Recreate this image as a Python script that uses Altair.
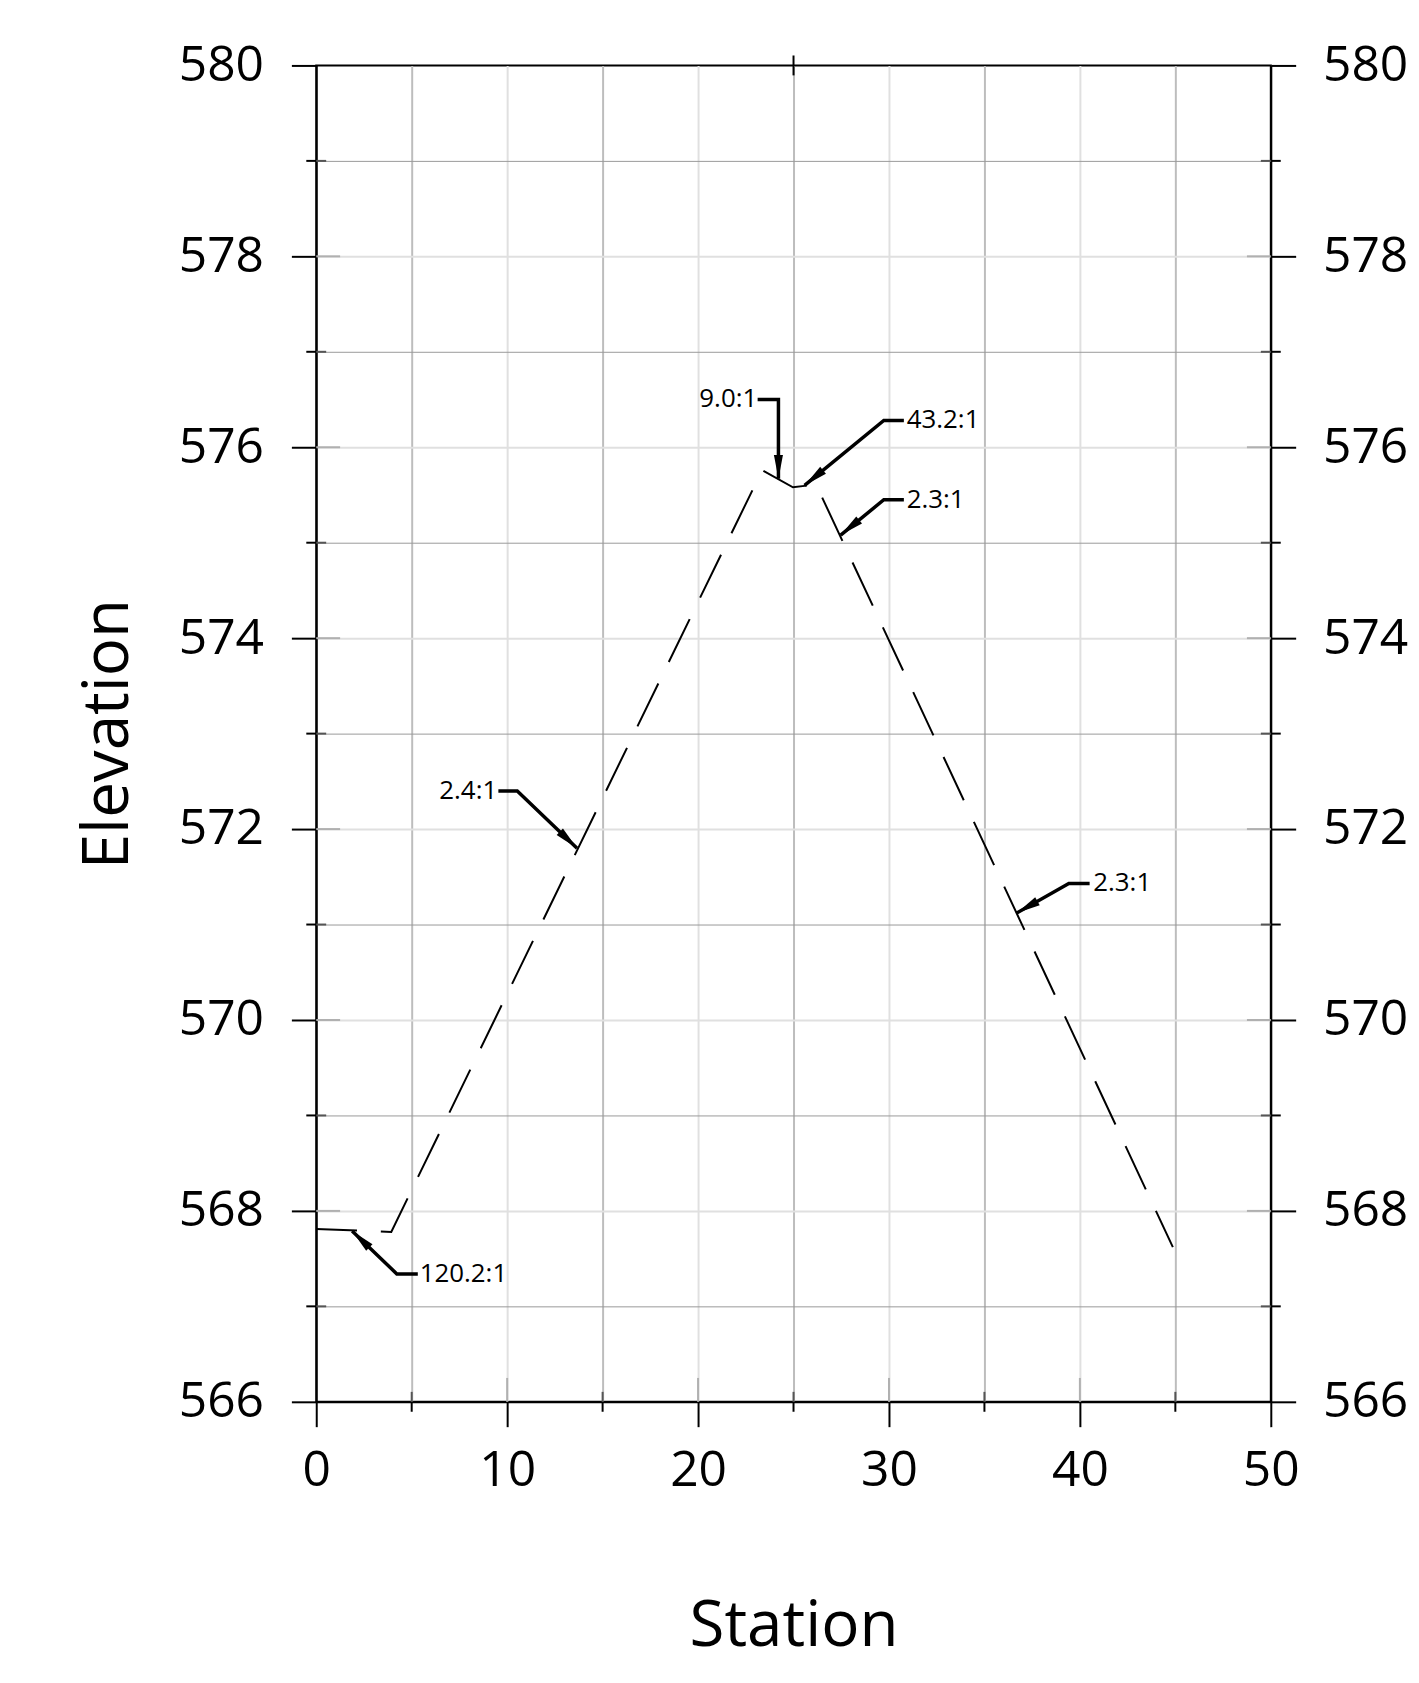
import math
import altair as alt
import pandas as pd

# ---------------- data ----------------
X_DOMAIN = [0, 50]
Y_DOMAIN = [566, 580]
X_TICK_VALUES = [0, 5, 10, 15, 20, 25, 30, 35, 40, 45, 50]
Y_TICK_VALUES = [566, 567, 568, 569, 570, 571, 572, 573, 574, 575, 576, 577, 578, 579, 580]
X_MAJOR_INNER = [10, 20, 30, 40]
X_MINOR = [5, 15, 25, 35, 45]
Y_MAJOR_INNER = [568, 570, 572, 574, 576, 578]
Y_MINOR = [567, 569, 571, 573, 575, 577, 579]
TOP_TICKS = [25]

station = [0.0, 3.93, 23.36, 24.97, 26.18, 44.87]
elevation = [567.81, 567.78, 575.76, 575.58, 575.61, 567.62]

ann_text = ["120.2:1", "9.0:1", "43.2:1", "2.3:1", "2.4:1", "2.3:1"]
ann_align = ["left", "right", "left", "left", "right", "left"]
ann_text_x = [5.42, 23.10, 30.93, 30.93, 9.48, 40.70]
ann_text_y = [567.34, 576.50, 576.28, 575.45, 572.40, 571.43]
ann_end_x = [5.32, 23.12, 30.78, 30.78, 9.54, 40.51]
ann_elbow_x = [4.22, 24.21, 29.73, 29.73, 10.53, 39.42]
ann_elbow_y = [567.34, 576.50, 576.28, 575.45, 572.40, 571.43]
ann_tip_x = [1.88, 24.21, 25.58, 27.47, 13.66, 36.69]
ann_tip_y = [567.79, 575.67, 575.60, 575.08, 571.80, 571.12]

# ---------------- layout / style ----------------
W, H = 960, 1344
FONT = "Open Sans"
PX_X = W / (X_DOMAIN[1] - X_DOMAIN[0])
PX_Y = H / (Y_DOMAIN[1] - Y_DOMAIN[0])
MAJOR_LEN = 25
MINOR_LEN = 10
INNER_MAJOR_LEN = 24
ARROW = "M0,0 L-2,-0.38 L-2,0.38 Z"

xscale = alt.Scale(domain=X_DOMAIN, nice=False, zero=False)
yscale = alt.Scale(domain=Y_DOMAIN, nice=False, zero=False)

x_axis = alt.Axis(
    orient="bottom",
    values=X_TICK_VALUES, title="Station", titleFont=FONT, titleFontSize=64,
    titleFontWeight="normal", titleColor="black", titlePadding=100,
    labelFont=FONT, labelFontSize=50, labelColor="black", labelPadding=19,
    labelExpr="datum.value % 10 == 0 ? datum.label : ''",
    labelOverlap=False, labelFlush=False,
    tickSize=MAJOR_LEN, tickWidth=2, tickColor="black",
    tickOpacity={"condition": {"test": "datum.value % 10 == 0", "value": 1}, "value": 0},
    domainColor="black", domainWidth=2,
    grid=True,
    gridColor={"condition": {"test": "datum.value % 10 == 0", "value": "#e0e0e0"}, "value": "#bdbdbd"},
    gridWidth=2,
    gridOpacity={"condition": {"test": "datum.value == 0 || datum.value == 50", "value": 0}, "value": 1},
)

def y_axis(orient, with_grid, title, pad):
    kw = dict(
        orient=orient, values=Y_TICK_VALUES,
        labelFont=FONT, labelFontSize=50, labelColor="black", labelPadding=pad,
        labelExpr="datum.value % 2 == 0 ? datum.label : ''",
        labelOverlap=False, labelFlush=False,
        tickSize=MAJOR_LEN, tickWidth=2, tickColor="black",
        tickOpacity={"condition": {"test": "datum.value % 2 == 0", "value": 1}, "value": 0},
        domainColor="black", domainWidth=2,
        grid=with_grid,
    )
    if title:
        kw.update(title=title, titleFont=FONT, titleFontSize=64, titleFontWeight="normal",
                  titleColor="black", titlePadding=38)
    else:
        kw.update(title=None)
    if with_grid:
        kw.update(
            gridColor={"condition": {"test": "datum.value % 2 == 0", "value": "#e0e0e0"}, "value": "#999999"},
            gridWidth={"condition": {"test": "datum.value % 2 == 0", "value": 2}, "value": 1},
            gridOpacity={"condition": {"test": "datum.value == 566 || datum.value == 580", "value": 0}, "value": 1},
        )
    return alt.Axis(**kw)

# ---------------- tables ----------------
prof_df = pd.DataFrame({"idx": list(range(len(station))), "station": station, "elevation": elevation})

rows = []
for i in range(len(ann_text)):
    rows.append({"id": i, "seq": 0, "lx": ann_end_x[i], "ly": ann_elbow_y[i]})
    rows.append({"id": i, "seq": 1, "lx": ann_elbow_x[i], "ly": ann_elbow_y[i]})
    rows.append({"id": i, "seq": 2, "lx": ann_tip_x[i], "ly": ann_tip_y[i]})
leader_df = pd.DataFrame(rows)

angles = []
for i in range(len(ann_text)):
    dx = (ann_tip_x[i] - ann_elbow_x[i]) * PX_X
    dy = -(ann_tip_y[i] - ann_elbow_y[i]) * PX_Y
    angles.append(math.degrees(math.atan2(dy, dx)) % 360)
arrow_df = pd.DataFrame({"tx": ann_tip_x, "ty": ann_tip_y, "ang": angles})

text_df = pd.DataFrame({"label": ann_text, "x": ann_text_x, "y": ann_text_y, "align": ann_align})
text_left = text_df[text_df["align"] == "left"]
text_right = text_df[text_df["align"] == "right"]

# ---------------- layers ----------------
profile = alt.Chart(prof_df).mark_line(
    color="black", strokeWidth=2, strokeDash=[48, 24], strokeDashOffset=7
).encode(
    x=alt.X("station:Q", scale=xscale, axis=x_axis),
    y=alt.Y("elevation:Q", scale=yscale, axis=y_axis("left", True, "Elevation", 28)),
    order="idx:Q",
)

leaders = alt.Chart(leader_df).mark_line(color="black", strokeWidth=3.5, strokeJoin="miter").encode(
    x=alt.X("lx:Q", scale=xscale, axis=None),
    y=alt.Y("ly:Q", scale=yscale, axis=y_axis("right", False, None, 27)),
    detail="id:N",
    order="seq:Q",
)

arrows = alt.Chart(arrow_df).mark_point(shape=ARROW, filled=True, size=576, color="black", opacity=1).encode(
    x=alt.X("tx:Q", scale=xscale, axis=None),
    y=alt.Y("ty:Q", scale=yscale, axis=None),
    angle=alt.Angle("ang:Q", scale=None),
)

def texts(df, align):
    return alt.Chart(df).mark_text(
        align=align, baseline="middle", font=FONT, fontSize=26, color="black"
    ).encode(
        x=alt.X("x:Q", scale=xscale, axis=None),
        y=alt.Y("y:Q", scale=yscale, axis=None),
        text="label:N",
    )

def ydf(vals):
    return pd.DataFrame({"v": vals})

def yrule(vals, x1, x2, color):
    return alt.Chart(ydf(vals)).mark_rule(color=color, strokeWidth=2).encode(
        y=alt.Y("v:Q", scale=yscale, axis=None), x=alt.value(x1), x2=alt.value(x2))

def xrule(vals, y1, y2, color):
    return alt.Chart(ydf(vals)).mark_rule(color=color, strokeWidth=2).encode(
        x=alt.X("v:Q", scale=xscale, axis=None), y=alt.value(y1), y2=alt.value(y2))

tick_layers = [
    yrule(Y_MAJOR_INNER, 0, INNER_MAJOR_LEN, "#b0b0b0"),
    yrule(Y_MAJOR_INNER, W - INNER_MAJOR_LEN, W, "#b0b0b0"),
    xrule(X_MAJOR_INNER, H - INNER_MAJOR_LEN, H, "#b0b0b0"),
    yrule(Y_MINOR, -MINOR_LEN, 0, "black"),
    yrule(Y_MINOR, 0, MINOR_LEN, "#555555"),
    yrule(Y_MINOR, W, W + MINOR_LEN, "black"),
    yrule(Y_MINOR, W - MINOR_LEN, W, "#555555"),
    xrule(X_MINOR, H, H + MINOR_LEN, "black"),
    xrule(X_MINOR, H - MINOR_LEN, H, "#555555"),
    xrule(TOP_TICKS, -MINOR_LEN, MINOR_LEN, "black"),
]

chart = alt.layer(
    profile, leaders, *tick_layers, arrows, texts(text_left, "left"), texts(text_right, "right")
).resolve_axis(
    x="independent", y="independent"
).properties(
    width=W, height=H,
    autosize=alt.AutoSizeParams(type="none"),
    padding={"left": 310, "top": 53, "right": 141, "bottom": 272},
).configure_view(
    stroke="black", strokeWidth=2
)

chart.save("out.html", embed_options={"renderer": "svg", "actions": False})
